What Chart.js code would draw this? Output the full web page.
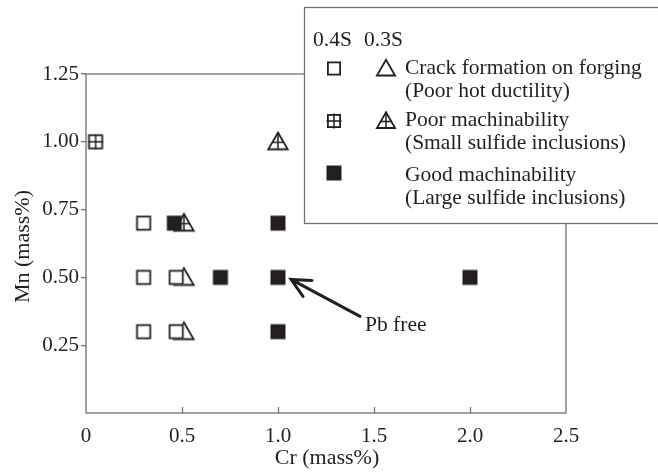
<!DOCTYPE html>
<html>
<head>
<meta charset="utf-8">
<script src="https://cdn.jsdelivr.net/npm/chart.js@4.4.0/dist/chart.umd.min.js"></script>
<style>
  html, body { margin: 0; padding: 0; background: #fff; }
  #plot { display: block; }
</style>
</head>
<body>
<canvas id="plot" width="658" height="474"></canvas>
<script>
(function () {
  "use strict";

  // Cr / Mn (mass%) of each steel, grouped by outcome and S level
  const crackSqCr  = [0.3, 0.3, 0.3, 0.47, 0.47];   // 0.4S, crack on forging
  const crackSqMn  = [0.7, 0.5, 0.3, 0.5, 0.3];
  const crackTriCr = [0.51, 0.51];                   // 0.3S, crack on forging
  const crackTriMn = [0.5, 0.3];
  const poorSqCr   = [0.05];                         // 0.4S, poor machinability
  const poorSqMn   = [1.0];
  const poorTriCr  = [0.51, 1.0];                    // 0.3S, poor machinability
  const poorTriMn  = [0.7, 1.0];
  const goodSqCr   = [0.46, 0.7, 1.0, 1.0, 1.0, 2.0]; // 0.4S, good machinability
  const goodSqMn   = [0.7, 0.5, 0.7, 0.5, 0.3, 0.5];

  const xTicks = [0, 0.5, 1.0, 1.5, 2.0, 2.5];
  const yTicks = [0.25, 0.5, 0.75, 1.0, 1.25];
  const pbFree = { x: 1.0, y: 0.5 };

  const INK  = "#231f20";
  const AXIS = "#707070";
  const SERIF = '"Liberation Serif", "Times New Roman", serif';

  function pts(xs, ys) { return xs.map((x, i) => ({ x: x, y: ys[i] })); }

  function drawMarker(ctx, kind, cx, cy, s) {
    const h = s / 2;
    ctx.save();
    ctx.strokeStyle = INK;
    ctx.fillStyle = INK;
    ctx.lineWidth = 1.8;
    if (kind === "filledSquare") {
      ctx.fillRect(cx - h, cy - h, s, s);
    } else if (kind === "square" || kind === "crossSquare") {
      ctx.fillStyle = "#fff";
      ctx.fillRect(cx - h, cy - h, s, s);
      ctx.strokeRect(cx - h + 0.9, cy - h + 0.9, s - 1.8, s - 1.8);
      if (kind === "crossSquare") {
        ctx.lineWidth = 1.5;
        ctx.beginPath();
        ctx.moveTo(cx, cy - h); ctx.lineTo(cx, cy + h);
        ctx.moveTo(cx - h, cy); ctx.lineTo(cx + h, cy);
        ctx.stroke();
      }
    } else {
      // triangles sit on the square's baseline and rise above it
      const w = s * 1.3, top = cy - s * 0.62, base = cy + s * 0.5;
      ctx.beginPath();
      ctx.moveTo(cx, top);
      ctx.lineTo(cx + w / 2, base);
      ctx.lineTo(cx - w / 2, base);
      ctx.closePath();
      ctx.fillStyle = "#fff";
      ctx.fill();
      ctx.stroke();
      if (kind === "crossTriangle") {
        const my = top + (base - top) * 0.58;
        const half = (w / 2) * (my - top) / (base - top);
        ctx.lineWidth = 1.5;
        ctx.beginPath();
        ctx.moveTo(cx, top); ctx.lineTo(cx, base);
        ctx.moveTo(cx - half, my); ctx.lineTo(cx + half, my);
        ctx.stroke();
      }
    }
    ctx.restore();
  }

  function markerImage(kind, s) {
    const c = document.createElement("canvas");
    c.width = 30; c.height = 30;
    drawMarker(c.getContext("2d"), kind, 15, 15, s);
    return c;
  }

  const MS = 15;
  function series(label, xs, ys, kind) {
    return {
      label: label,
      data: pts(xs, ys),
      pointStyle: markerImage(kind, MS),
      pointRadius: 8,
      pointHoverRadius: 8
    };
  }

  const framePlugin = {
    id: "framePlugin",
    beforeDatasetsDraw(chart) {
      const ctx = chart.ctx, a = chart.chartArea, xs = chart.scales.x;
      ctx.save();
      ctx.strokeStyle = AXIS;
      ctx.lineWidth = 1.3;
      ctx.strokeRect(a.left, a.top, a.right - a.left, a.bottom - a.top);
      // x ticks point into the plot
      ctx.beginPath();
      xTicks.slice(1, -1).forEach(v => {
        const px = Math.round(xs.getPixelForValue(v)) + 0.5;
        ctx.moveTo(px, a.bottom);
        ctx.lineTo(px, a.bottom - 6);
      });
      ctx.stroke();
      ctx.restore();
    },
    afterDraw(chart) {
      const ctx = chart.ctx, a = chart.chartArea;
      const xs = chart.scales.x, ys = chart.scales.y;
      ctx.save();

      // axis titles
      ctx.fillStyle = INK;
      ctx.font = "22px " + SERIF;
      ctx.textAlign = "center";
      ctx.textBaseline = "alphabetic";
      ctx.fillText("Cr (mass%)", (a.left + a.right) / 2 + 1, 464);
      ctx.save();
      ctx.translate(29, (a.top + a.bottom) / 2 + 3);
      ctx.rotate(-Math.PI / 2);
      ctx.fillText("Mn (mass%)", 0, 0);
      ctx.restore();

      // Pb free callout
      const tx = xs.getPixelForValue(pbFree.x), ty = ys.getPixelForValue(pbFree.y);
      const tip = { x: tx + 13, y: ty + 2 };
      ctx.strokeStyle = INK;
      ctx.lineWidth = 3;
      ctx.lineCap = "round";
      ctx.beginPath();
      ctx.moveTo(tx + 82, ty + 39);
      ctx.lineTo(tip.x, tip.y);
      ctx.moveTo(tip.x + 21, tip.y + 1);
      ctx.lineTo(tip.x, tip.y);
      ctx.lineTo(tip.x + 12, tip.y + 17);
      ctx.stroke();
      ctx.font = "21.5px " + SERIF;
      ctx.textAlign = "left";
      ctx.fillText("Pb free", tx + 87, ty + 54);

      // legend box
      ctx.fillStyle = "#fff";
      ctx.fillRect(304, 7, 360, 216);
      ctx.strokeStyle = AXIS;
      ctx.lineWidth = 1.3;
      ctx.strokeRect(304.5, 7.5, 360, 216);

      ctx.fillStyle = INK;
      ctx.font = "21.5px " + SERIF;
      ctx.fillText("0.4S", 313, 46);
      ctx.fillText("0.3S", 364, 46);
      const lx = 405;
      ctx.fillText("Crack formation on forging", lx, 74);
      ctx.fillText("(Poor hot ductility)", lx, 97);
      ctx.fillText("Poor machinability", lx, 126);
      ctx.fillText("(Small sulfide inclusions)", lx, 149);
      ctx.fillText("Good machinability", lx, 181);
      ctx.fillText("(Large sulfide inclusions)", lx, 204);

      drawMarker(ctx, "square", 334, 68.5, 14);
      drawMarker(ctx, "triangle", 386, 68.5, 14);
      drawMarker(ctx, "crossSquare", 334, 121, 14);
      drawMarker(ctx, "crossTriangle", 386, 121, 14);
      drawMarker(ctx, "filledSquare", 334, 173, 15);
      ctx.restore();
    }
  };

  new Chart(document.getElementById("plot"), {
    type: "scatter",
    data: {
      datasets: [
        series("0.4S crack", crackSqCr, crackSqMn, "square"),
        series("0.4S poor", poorSqCr, poorSqMn, "crossSquare"),
        series("0.4S good", goodSqCr, goodSqMn, "filledSquare"),
        series("0.3S crack", crackTriCr, crackTriMn, "triangle"),
        series("0.3S poor", poorTriCr, poorTriMn, "crossTriangle")
      ]
    },
    options: {
      responsive: false,
      animation: false,
      devicePixelRatio: 1,
      clip: false,
      layout: { padding: { left: 0, top: 74, right: 92, bottom: 0 } },
      plugins: { legend: { display: false }, tooltip: { enabled: false } },
      scales: {
        x: {
          type: "linear",
          min: 0, max: 2.5,
          afterBuildTicks(s) { s.ticks = xTicks.map(v => ({ value: v })); },
          afterFit(s) { s.height = 61; },
          grid: { display: false },
          border: { display: false },
          ticks: {
            color: INK,
            font: { family: SERIF, size: 21 },
            padding: 3,
            maxRotation: 0,
            callback: v => (v === 0 ? "0" : v.toFixed(1))
          }
        },
        y: {
          type: "linear",
          min: 0, max: 1.25,
          afterBuildTicks(s) { s.ticks = yTicks.map(v => ({ value: v })); },
          afterFit(s) { s.width = 86; },
          grid: { drawOnChartArea: false, drawTicks: true, tickLength: 5, color: AXIS, lineWidth: 1.3 },
          border: { display: false },
          ticks: {
            color: INK,
            font: { family: SERIF, size: 21 },
            padding: 2,
            callback: v => v.toFixed(2)
          }
        }
      }
    },
    plugins: [framePlugin]
  });
})();
</script>
</body>
</html>
